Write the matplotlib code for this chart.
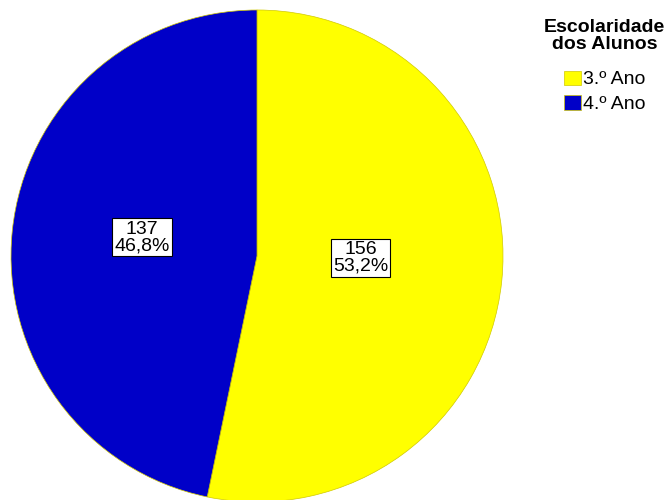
import matplotlib
matplotlib.use("Agg")
import matplotlib.pyplot as plt

plt.rcParams['font.family'] = ['Liberation Sans', 'DejaVu Sans']

categories = ['3.º Ano', '4.º Ano']
counts = [156, 137]
colors = ['#FFFF00', '#0000C8']
legend_title = 'Escolaridade\ndos Alunos'

total = sum(counts)

fig = plt.figure(figsize=(6.68, 5.0), dpi=100)
cx, cy, r = 257, 244, 246
ax = fig.add_axes([(cx - r) / 668, (cy - r) / 500, 2 * r / 668, 2 * r / 500])

def fmt(p):
    n = int(round(p * total / 100))
    return f"{n}\n{p:.1f}%".replace('.', ',')

wedges, texts, autotexts = ax.pie(
    counts, colors=colors, startangle=90, counterclock=False,
    autopct=fmt, pctdistance=0.44, radius=1,
    wedgeprops=dict(edgecolor='#d0c800', linewidth=0.5),
    textprops=dict(fontsize=14, color='black', linespacing=0.95),
)
# label placement offsets (layout only, relative to library positions)
label_shift = [(-0.017, 0.038), (-0.029, 0.031)]
for t, (dx, dy) in zip(autotexts, label_shift):
    x, y = t.get_position()
    t.set_position((x + dx, y + dy))
    t.set_ha('center')
    t.set_multialignment('center')
    t.set_bbox(dict(boxstyle='square,pad=0.12', facecolor='white', edgecolor='black', linewidth=0.8))
ax.set_xlim(-1, 1)
ax.set_ylim(-1, 1)
ax.set_aspect('equal')
ax.axis('off')

leg = fig.legend(wedges, categories, title=legend_title, loc='upper right',
                 bbox_to_anchor=(1.0135, 0.985), frameon=False, fontsize=14,
                 title_fontproperties=dict(weight='bold', size=14),
                 handlelength=0.9, handleheight=0.75, handletextpad=0.1,
                 labelspacing=0.36, borderaxespad=0.2)
leg.get_title().set_multialignment('center')
leg.get_title().set_linespacing(0.95)
leg._legend_box.sep = 13
fig.savefig('out.png', dpi=100)
